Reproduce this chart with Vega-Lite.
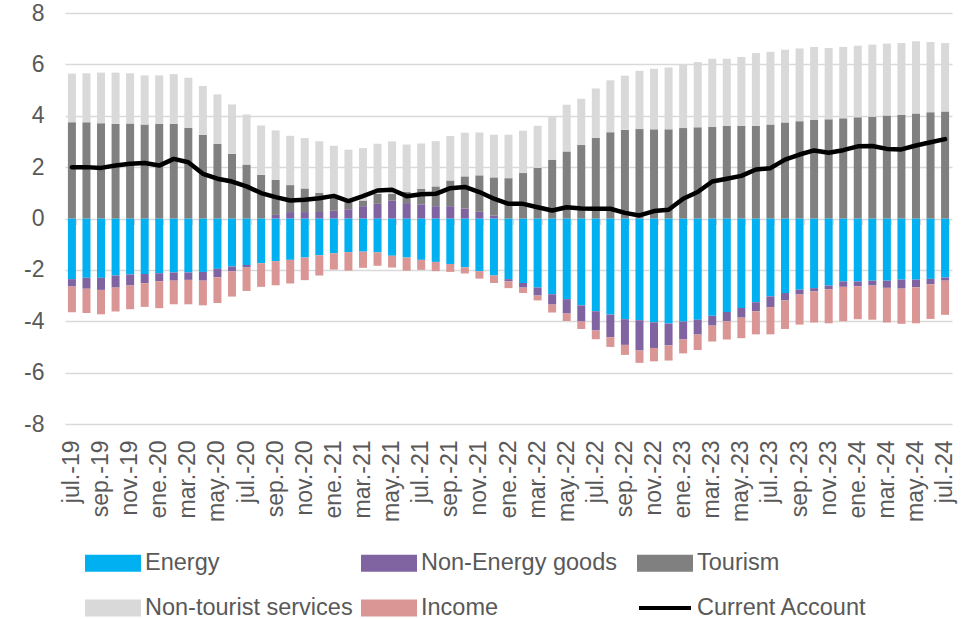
{
  "$schema": "https://vega.github.io/schema/vega-lite/v6.json",
  "width": 887,
  "height": 411,
  "autosize": {"type": "none"},
  "padding": {"left": 65, "top": 13, "right": 27, "bottom": 195},
  "config": {"font": "Liberation Sans", "view": {"stroke": null}},
  "resolve": {"axis": {"x": "independent"}},
  "data": {"values": [
    {"m":"jul.-19","Energy":-2.36,"Non-Energy goods":-0.29,"Tourism":3.75,"Non-tourist services":1.89,"Income":-1.00,"Current Account":2.00},
    {"m":"ago.-19","Energy":-2.31,"Non-Energy goods":-0.42,"Tourism":3.75,"Non-tourist services":1.90,"Income":-0.95,"Current Account":2.00},
    {"m":"sep.-19","Energy":-2.31,"Non-Energy goods":-0.47,"Tourism":3.71,"Non-tourist services":1.97,"Income":-0.95,"Current Account":1.97},
    {"m":"oct.-19","Energy":-2.22,"Non-Energy goods":-0.47,"Tourism":3.69,"Non-tourist services":1.99,"Income":-0.93,"Current Account":2.06},
    {"m":"nov.-19","Energy":-2.18,"Non-Energy goods":-0.43,"Tourism":3.70,"Non-tourist services":1.95,"Income":-0.92,"Current Account":2.13},
    {"m":"dic.-19","Energy":-2.16,"Non-Energy goods":-0.36,"Tourism":3.66,"Non-tourist services":1.91,"Income":-0.92,"Current Account":2.16},
    {"m":"ene.-20","Energy":-2.13,"Non-Energy goods":-0.31,"Tourism":3.68,"Non-tourist services":1.89,"Income":-1.05,"Current Account":2.06},
    {"m":"feb.-20","Energy":-2.10,"Non-Energy goods":-0.32,"Tourism":3.69,"Non-tourist services":1.93,"Income":-0.92,"Current Account":2.32},
    {"m":"mar.-20","Energy":-2.10,"Non-Energy goods":-0.29,"Tourism":3.53,"Non-tourist services":1.95,"Income":-0.95,"Current Account":2.19},
    {"m":"abr.-20","Energy":-2.08,"Non-Energy goods":-0.34,"Tourism":3.26,"Non-tourist services":1.90,"Income":-0.96,"Current Account":1.74},
    {"m":"may.-20","Energy":-1.96,"Non-Energy goods":-0.33,"Tourism":2.91,"Non-tourist services":1.92,"Income":-1.00,"Current Account":1.55},
    {"m":"jun.-20","Energy":-1.87,"Non-Energy goods":-0.19,"Tourism":2.52,"Non-tourist services":1.92,"Income":-0.98,"Current Account":1.44},
    {"m":"jul.-20","Energy":-1.81,"Non-Energy goods":-0.10,"Tourism":2.10,"Non-tourist services":1.95,"Income":-0.91,"Current Account":1.25},
    {"m":"ago.-20","Energy":-1.74,"Non-Energy goods":0.00,"Tourism":1.70,"Non-tourist services":1.92,"Income":-0.92,"Current Account":0.99},
    {"m":"sep.-20","Energy":-1.66,"Non-Energy goods":0.14,"Tourism":1.37,"Non-tourist services":1.92,"Income":-0.94,"Current Account":0.83},
    {"m":"oct.-20","Energy":-1.61,"Non-Energy goods":0.25,"Tourism":1.05,"Non-tourist services":1.92,"Income":-0.92,"Current Account":0.70},
    {"m":"nov.-20","Energy":-1.52,"Non-Energy goods":0.25,"Tourism":0.92,"Non-tourist services":1.96,"Income":-0.88,"Current Account":0.73},
    {"m":"dic.-20","Energy":-1.43,"Non-Energy goods":0.25,"Tourism":0.75,"Non-tourist services":2.01,"Income":-0.79,"Current Account":0.79},
    {"m":"ene.-21","Energy":-1.35,"Non-Energy goods":0.30,"Tourism":0.55,"Non-tourist services":1.98,"Income":-0.64,"Current Account":0.88},
    {"m":"feb.-21","Energy":-1.31,"Non-Energy goods":0.36,"Tourism":0.28,"Non-tourist services":2.04,"Income":-0.72,"Current Account":0.68},
    {"m":"mar.-21","Energy":-1.29,"Non-Energy goods":0.48,"Tourism":0.22,"Non-tourist services":2.04,"Income":-0.63,"Current Account":0.87},
    {"m":"abr.-21","Energy":-1.32,"Non-Energy goods":0.57,"Tourism":0.39,"Non-tourist services":1.95,"Income":-0.52,"Current Account":1.09},
    {"m":"may.-21","Energy":-1.45,"Non-Energy goods":0.69,"Tourism":0.27,"Non-tourist services":2.04,"Income":-0.46,"Current Account":1.12},
    {"m":"jun.-21","Energy":-1.52,"Non-Energy goods":0.60,"Tourism":0.44,"Non-tourist services":1.84,"Income":-0.51,"Current Account":0.87},
    {"m":"jul.-21","Energy":-1.61,"Non-Energy goods":0.55,"Tourism":0.61,"Non-tourist services":1.76,"Income":-0.39,"Current Account":0.94},
    {"m":"ago.-21","Energy":-1.69,"Non-Energy goods":0.48,"Tourism":0.77,"Non-tourist services":1.76,"Income":-0.36,"Current Account":0.96},
    {"m":"sep.-21","Energy":-1.77,"Non-Energy goods":0.48,"Tourism":1.00,"Non-tourist services":1.73,"Income":-0.31,"Current Account":1.18},
    {"m":"oct.-21","Energy":-1.90,"Non-Energy goods":0.39,"Tourism":1.25,"Non-tourist services":1.70,"Income":-0.24,"Current Account":1.23},
    {"m":"nov.-21","Energy":-2.05,"Non-Energy goods":0.26,"Tourism":1.42,"Non-tourist services":1.67,"Income":-0.29,"Current Account":1.03},
    {"m":"dic.-21","Energy":-2.22,"Non-Energy goods":0.12,"Tourism":1.48,"Non-tourist services":1.66,"Income":-0.29,"Current Account":0.77},
    {"m":"ene.-22","Energy":-2.36,"Non-Energy goods":-0.09,"Tourism":1.57,"Non-tourist services":1.69,"Income":-0.26,"Current Account":0.57},
    {"m":"feb.-22","Energy":-2.51,"Non-Energy goods":-0.18,"Tourism":1.77,"Non-tourist services":1.65,"Income":-0.21,"Current Account":0.57},
    {"m":"mar.-22","Energy":-2.69,"Non-Energy goods":-0.31,"Tourism":1.97,"Non-tourist services":1.64,"Income":-0.19,"Current Account":0.44},
    {"m":"abr.-22","Energy":-2.95,"Non-Energy goods":-0.40,"Tourism":2.29,"Non-tourist services":1.70,"Income":-0.31,"Current Account":0.31},
    {"m":"may.-22","Energy":-3.14,"Non-Energy goods":-0.56,"Tourism":2.61,"Non-tourist services":1.82,"Income":-0.29,"Current Account":0.44},
    {"m":"jun.-22","Energy":-3.38,"Non-Energy goods":-0.63,"Tourism":2.86,"Non-tourist services":1.80,"Income":-0.29,"Current Account":0.39},
    {"m":"jul.-22","Energy":-3.61,"Non-Energy goods":-0.75,"Tourism":3.14,"Non-tourist services":1.92,"Income":-0.34,"Current Account":0.38},
    {"m":"ago.-22","Energy":-3.74,"Non-Energy goods":-0.88,"Tourism":3.36,"Non-tourist services":2.02,"Income":-0.38,"Current Account":0.38},
    {"m":"sep.-22","Energy":-3.92,"Non-Energy goods":-1.00,"Tourism":3.45,"Non-tourist services":2.11,"Income":-0.39,"Current Account":0.22},
    {"m":"oct.-22","Energy":-3.96,"Non-Energy goods":-1.18,"Tourism":3.48,"Non-tourist services":2.27,"Income":-0.48,"Current Account":0.12},
    {"m":"nov.-22","Energy":-4.04,"Non-Energy goods":-1.00,"Tourism":3.47,"Non-tourist services":2.36,"Income":-0.52,"Current Account":0.29},
    {"m":"dic.-22","Energy":-4.09,"Non-Energy goods":-0.85,"Tourism":3.47,"Non-tourist services":2.41,"Income":-0.59,"Current Account":0.34},
    {"m":"ene.-23","Energy":-4.01,"Non-Energy goods":-0.70,"Tourism":3.52,"Non-tourist services":2.48,"Income":-0.54,"Current Account":0.77},
    {"m":"feb.-23","Energy":-3.94,"Non-Energy goods":-0.58,"Tourism":3.55,"Non-tourist services":2.54,"Income":-0.60,"Current Account":1.03},
    {"m":"mar.-23","Energy":-3.79,"Non-Energy goods":-0.38,"Tourism":3.56,"Non-tourist services":2.66,"Income":-0.62,"Current Account":1.44},
    {"m":"abr.-23","Energy":-3.64,"Non-Energy goods":-0.36,"Tourism":3.60,"Non-tourist services":2.62,"Income":-0.71,"Current Account":1.55},
    {"m":"may.-23","Energy":-3.48,"Non-Energy goods":-0.38,"Tourism":3.61,"Non-tourist services":2.68,"Income":-0.80,"Current Account":1.66},
    {"m":"jun.-23","Energy":-3.26,"Non-Energy goods":-0.35,"Tourism":3.61,"Non-tourist services":2.83,"Income":-0.90,"Current Account":1.91},
    {"m":"jul.-23","Energy":-3.03,"Non-Energy goods":-0.42,"Tourism":3.66,"Non-tourist services":2.83,"Income":-1.06,"Current Account":1.96},
    {"m":"ago.-23","Energy":-2.90,"Non-Energy goods":-0.29,"Tourism":3.74,"Non-tourist services":2.83,"Income":-1.11,"Current Account":2.29},
    {"m":"sep.-23","Energy":-2.77,"Non-Energy goods":-0.19,"Tourism":3.79,"Non-tourist services":2.83,"Income":-1.17,"Current Account":2.49},
    {"m":"oct.-23","Energy":-2.71,"Non-Energy goods":-0.13,"Tourism":3.84,"Non-tourist services":2.84,"Income":-1.21,"Current Account":2.65},
    {"m":"nov.-23","Energy":-2.61,"Non-Energy goods":-0.14,"Tourism":3.86,"Non-tourist services":2.78,"Income":-1.33,"Current Account":2.56},
    {"m":"dic.-23","Energy":-2.45,"Non-Energy goods":-0.21,"Tourism":3.90,"Non-tourist services":2.78,"Income":-1.34,"Current Account":2.66},
    {"m":"ene.-24","Energy":-2.45,"Non-Energy goods":-0.19,"Tourism":3.94,"Non-tourist services":2.79,"Income":-1.28,"Current Account":2.81},
    {"m":"feb.-24","Energy":-2.42,"Non-Energy goods":-0.19,"Tourism":3.96,"Non-tourist services":2.81,"Income":-1.33,"Current Account":2.82},
    {"m":"mar.-24","Energy":-2.42,"Non-Energy goods":-0.28,"Tourism":4.01,"Non-tourist services":2.80,"Income":-1.35,"Current Account":2.71},
    {"m":"abr.-24","Energy":-2.38,"Non-Energy goods":-0.35,"Tourism":4.04,"Non-tourist services":2.79,"Income":-1.37,"Current Account":2.69},
    {"m":"may.-24","Energy":-2.38,"Non-Energy goods":-0.30,"Tourism":4.09,"Non-tourist services":2.81,"Income":-1.40,"Current Account":2.84},
    {"m":"jun.-24","Energy":-2.35,"Non-Energy goods":-0.21,"Tourism":4.14,"Non-tourist services":2.73,"Income":-1.35,"Current Account":2.97},
    {"m":"jul.-24","Energy":-2.30,"Non-Energy goods":-0.12,"Tourism":4.17,"Non-tourist services":2.66,"Income":-1.33,"Current Account":3.09}
  ]},
  "layer": [
    {
      "transform": [
        {"fold": ["Energy","Non-Energy goods","Tourism","Non-tourist services","Income"], "as": ["s","v"]},
        {"calculate": "indexof(['Energy','Non-Energy goods','Tourism','Non-tourist services','Income'], datum.s)", "as": "o"}
      ],
      "mark": {"type": "bar"},
      "encoding": {
        "x": {
          "field": "m", "type": "ordinal", "sort": null,
          "scale": {"paddingInner": 0.45, "paddingOuter": 0.2},
          "axis": {
            "title": null, "domain": false, "ticks": false, "grid": false,
            "labelAngle": -90, "labelFontSize": 23, "labelColor": "#595959", "labelPadding": 16,
            "values": ["jul.-19","sep.-19","nov.-19","ene.-20","mar.-20","may.-20","jul.-20","sep.-20","nov.-20","ene.-21","mar.-21","may.-21","jul.-21","sep.-21","nov.-21","ene.-22","mar.-22","may.-22","jul.-22","sep.-22","nov.-22","ene.-23","mar.-23","may.-23","jul.-23","sep.-23","nov.-23","ene.-24","mar.-24","may.-24","jul.-24"]
          }
        },
        "y": {
          "field": "v", "type": "quantitative", "stack": "zero",
          "scale": {"domain": [-8, 8], "nice": false, "zero": false},
          "axis": {
            "title": null, "values": [-8,-6,-4,-2,0,2,4,6,8], "domain": false, "ticks": false,
            "grid": true, "gridColor": "#d9d9d9", "gridWidth": 1.3,
            "labelExpr": "toString(datum.value)",
            "labelFontSize": 23, "labelColor": "#595959", "labelPadding": 21
          }
        },
        "color": {
          "field": "s", "type": "nominal",
          "scale": {
            "domain": ["Energy","Non-Energy goods","Tourism","Non-tourist services","Income","Current Account"],
            "range": ["#00b0f0","#8064a2","#808080","#d9d9d9","#da9694","#000000"]
          },
          "legend": {
            "title": null, "orient": "none", "legendX": 20, "legendY": 539,
            "direction": "horizontal", "columns": 3, "gridAlign": "all",
            "columnPadding": 8, "rowPadding": 21, "clipHeight": 22,
            "labelFontSize": 23.5, "labelColor": "#595959", "labelLimit": 400, "labelOffset": 4,
            "symbolSize": 2704, "symbolOpacity": 1,
            "encoding": {
              "symbols": {
                "shape": {"value": {"expr": "datum.value === 'Current Account' ? 'stroke' : 'M-1,-0.25H1V0.25H-1Z'"}},
                "fill": {"value": {"expr": "datum.value === 'Current Account' ? 'transparent' : scale('color', datum.value)"}},
                "stroke": {"value": {"expr": "datum.value === 'Current Account' ? '#000000' : 'transparent'"}},
                "strokeWidth": {"value": 4},
                "opacity": {"value": 1}
              }
            }
          }
        },
        "order": {"field": "o", "type": "quantitative"}
      }
    },
    {
      "transform": [{"fold": ["Current Account"], "as": ["s","v"]}],
      "mark": {"type": "line", "strokeWidth": 4.5, "strokeJoin": "round", "strokeCap": "round"},
      "encoding": {
        "x": {
          "field": "m", "type": "ordinal", "sort": null,
          "scale": {"paddingInner": 0.45, "paddingOuter": 0.2},
          "axis": {
            "orient": "top", "offset": -205.5, "title": null, "labels": false, "domain": false, "grid": false,
            "ticks": true, "tickSize": -6, "tickColor": "#d9d9d9", "tickWidth": 1.3, "tickBand": "extent",
            "values": ["jul.-19","sep.-19","nov.-19","ene.-20","mar.-20","may.-20","jul.-20","sep.-20","nov.-20","ene.-21","mar.-21","may.-21","jul.-21","sep.-21","nov.-21","ene.-22","mar.-22","may.-22","jul.-22","sep.-22","nov.-22","ene.-23","mar.-23","may.-23","jul.-23","sep.-23","nov.-23","ene.-24","mar.-24","may.-24","jul.-24"]
          }
        },
        "y": {"field": "v", "type": "quantitative"},
        "color": {"field": "s", "type": "nominal"}
      }
    }
  ]
}
